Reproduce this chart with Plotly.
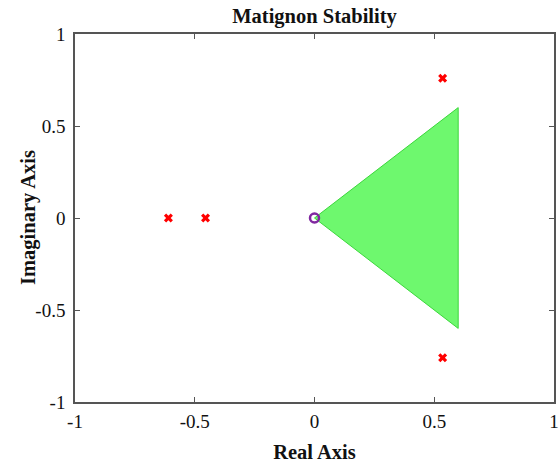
import plotly.graph_objects as go

# Pole locations (real, imaginary)
pole_re = [-0.61, -0.455, 0.535, 0.535]
pole_im = [0.0, 0.0, 0.76, -0.76]

# Zero location
zero_re = [0.0]
zero_im = [0.0]

# Stability region vertices (closed triangle)
region_re = [0.0, 0.6, 0.6, 0.0]
region_im = [0.0, 0.6, -0.6, 0.0]

tick_vals = [-1, -0.5, 0, 0.5, 1]
tick_text = ["-1", "-0.5", "0", "0.5", "1"]

FONT = "Liberation Serif"
L, R, T, B = 75, 6, 34, 61
W, H = 560, 463

fig = go.Figure()

fig.add_trace(go.Scatter(
    x=region_re, y=region_im, mode="lines", fill="toself",
    fillcolor="rgb(110,248,110)", line=dict(color="rgb(60,215,60)", width=1),
    hoverinfo="skip", showlegend=False,
))

fig.add_trace(go.Scatter(
    x=pole_re, y=pole_im, mode="markers",
    marker=dict(symbol="x", size=8, color="rgb(255,0,0)", line=dict(width=0)),
    showlegend=False,
))

fig.add_trace(go.Scatter(
    x=zero_re, y=zero_im, mode="markers",
    marker=dict(symbol="circle-open", size=9, color="rgb(128,40,160)",
                line=dict(width=2.5, color="rgb(128,40,160)")),
    showlegend=False,
))

axis_common = dict(
    range=[-1, 1], tickvals=tick_vals, ticktext=tick_text,
    ticks="inside", ticklen=5, tickcolor="#555", tickwidth=1,
    showline=True, linecolor="#555", linewidth=1.5, mirror="ticks",
    showgrid=False, zeroline=False, automargin=False,
    tickfont=dict(family=FONT, size=19, color="#111"),
)

fig.update_layout(
    width=W, height=H,
    margin=dict(l=L, r=R, t=T, b=B),
    paper_bgcolor="white", plot_bgcolor="white",
    title=dict(text="<b>Matignon Stability</b>", x=(L + W - R) / 2 / W, xanchor="center",
               y=1 - 16 / H, yanchor="middle",
               font=dict(family=FONT, size=20.5, color="#111")),
    xaxis=dict(**axis_common, ticklabelstandoff=1,
               title=dict(text="<b>Real Axis</b>", standoff=14,
                          font=dict(family=FONT, size=20.5, color="#111"))),
    yaxis=dict(**axis_common, ticklabelstandoff=4),
)

# Vertical axis title placed as a rotated annotation next to the tick labels
fig.add_annotation(
    text="<b>Imaginary Axis</b>", textangle=-90,
    xref="paper", yref="paper", x=(28 - L) / (W - L - R), y=0.5,
    xanchor="center", yanchor="middle", showarrow=False,
    font=dict(family=FONT, size=20.5, color="#111"),
)

fig.write_html("out.html")
